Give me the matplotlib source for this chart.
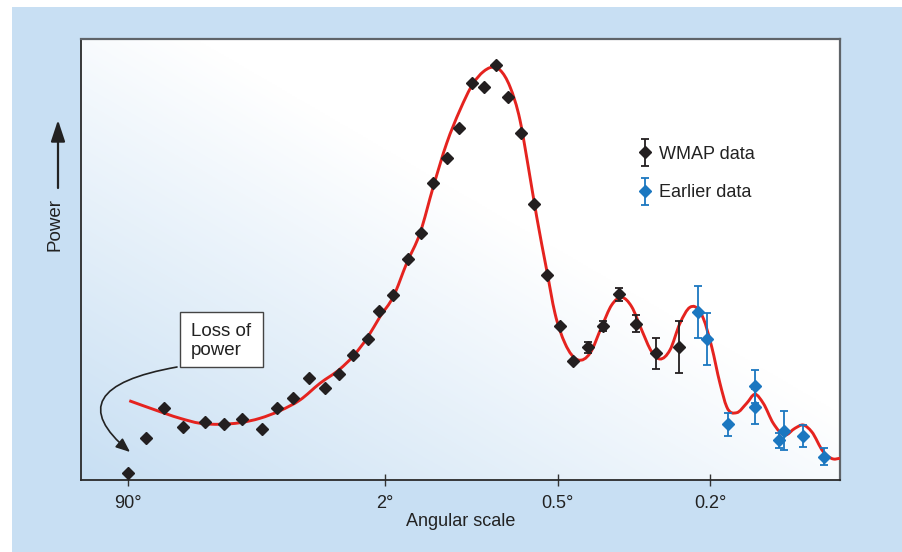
import matplotlib.pyplot as plt
import numpy as np
from matplotlib.container import ErrorbarContainer
from matplotlib.legend_handler import HandlerErrorbar
from matplotlib.patches import PathPatch, Rectangle
from matplotlib.path import Path

# multipole l and band power (arbitrary units)
wmap_l = [2, 3.05, 4.5, 6.46, 9.52, 12.94, 16.95, 22.35, 27.36, 33.57,
          40.65, 48.62, 56.86, 65.49, 76.5, 85.49, 97.7, 111.55, 125.96, 139.81,
          156.56, 173.23, 191.81, 211.18, 230.94, 253.75, 277.78, 306.08, 333.72, 365.39,
          399.27, 438.51, 483.38, 534.83, 590.63, 666.81, 757.73]
wmap_power = [94, 592, 1012, 746, 816, 780, 854, 710, 1012, 1152,
              1432, 1292, 1480, 1750, 1974, 2370, 2590, 3098, 3462, 4162,
              4504, 4924, 5554, 5506, 5810, 5366, 4862, 3864, 2874, 2156,
              1673, 1858, 2160, 2600, 2188, 1774, 1862]
wmap_err = [0] * 31 + [77, 70, 91, 122, 217, 364]

earlier_l = [843.3, 884.1, 992.0, 1138.5, 1138.5, 1281.7, 1317.5, 1442.1, 1592.5]
earlier_power = [2348, 1974, 784, 1312, 1026, 556, 690, 620, 326]
earlier_err = [364, 364, 161, 234, 248, 105, 270, 154, 122]

model_l = [2.065, 3.581, 6.111, 8.746, 12.15, 16.466, 21.836, 28.429, 36.408, 45.966,
           57.29, 65.49, 76.5, 86.07, 97.7, 110.54, 124.54, 139.81, 156.56, 174.65,
           194.25, 210.05, 224.03, 238.54, 256.95, 276.37, 293.34, 311.29, 333.72, 353.21,
           377.85, 412.58, 445.07, 479.43, 510.35, 542.71, 576.62, 612.1, 649.2, 681.2,
           721.37, 763.29, 806.95, 829.53, 868.02, 908.29, 949.34, 983.66, 1036.4, 1091.3,
           1138.5, 1187.2, 1247.9, 1321.9, 1387.8, 1444.2, 1503.1, 1587.3, 1662.8, 1714.7]
model_power = [1110, 990, 864, 794, 780, 802, 864, 970, 1120, 1354,
               1554, 1726, 2006, 2286, 2566, 3034, 3454, 4106, 4714, 5180,
               5554, 5716, 5778, 5740, 5506, 5040, 4386, 3686, 2940, 2334,
               1914, 1680, 1774, 2146, 2450, 2558, 2426, 2100, 1796, 1694,
               1820, 2194, 2418, 2426, 2264, 1866, 1354, 1026, 942, 1074,
               1200, 1074, 794, 630, 724, 770, 676, 396, 294, 304]

tick_l = [2, 90, 360, 900]
tick_labels = ['90°', '2°', '0.5°', '0.2°']

BLUE_BG = '#c8dff3'
RED = '#e5231f'
BLACK = '#231f20'
BLUE = '#1b77c0'

plt.rcParams['font.family'] = ['Liberation Sans', 'DejaVu Sans']


def fwd(v):
    return np.abs(v) ** 0.25


def inv(v):
    return np.abs(v) ** 4


def smooth_path(xs, ys):
    # cubic Hermite segments in the axis' own (l**0.25) coordinate
    q = fwd(np.asarray(xs, float))
    p = np.asarray(ys, float)
    m = np.gradient(p, q)
    verts = [(xs[0], p[0])]
    codes = [Path.MOVETO]
    for i in range(len(q) - 1):
        dq = q[i + 1] - q[i]
        verts += [(inv(q[i] + dq / 3), p[i] + m[i] * dq / 3),
                  (inv(q[i + 1] - dq / 3), p[i + 1] - m[i + 1] * dq / 3),
                  (xs[i + 1], p[i + 1])]
        codes += [Path.CURVE4] * 3
    return Path(verts, codes)


fig = plt.figure(figsize=(9.02, 5.52), dpi=100)
fig.add_artist(Rectangle((12 / 902, 0), 1, 1 - 7 / 552, transform=fig.transFigure,
                         facecolor=BLUE_BG, edgecolor='none', zorder=-10))

pos = [81 / 902, 72 / 552, 759 / 902, 441 / 552]

# gradient backdrop (blue bottom-left -> white top-right)
bg = fig.add_axes(pos, zorder=0)
gx, gy = np.meshgrid(np.linspace(0, 1, 300), np.linspace(0, 1, 300))
t = np.clip(1 - (gx + gy) / 1.15, 0, 1)
c0 = np.array([1.0, 1.0, 1.0])
c1 = np.array([200, 223, 243]) / 255
img = c0 + (c1 - c0) * t[..., None]
bg.imshow(img, origin='lower', extent=(0, 1, 0, 1), aspect='auto')
bg.axis('off')

ax = fig.add_axes(pos, zorder=1)
ax.set_facecolor('none')
ax.set_xscale('function', functions=(fwd, inv))

ax.add_patch(PathPatch(smooth_path(model_l, model_power), fill=False, edgecolor=RED,
                       lw=2.1, zorder=3))

wl = np.array(wmap_l)
wp = np.array(wmap_power)
we = np.array(wmap_err)
has_err = we > 0
ax.plot(wl[~has_err], wp[~has_err], 'D', color=BLACK, ms=6.5, zorder=4)
wmap_eb = ax.errorbar(wl[has_err], wp[has_err], yerr=we[has_err], fmt='D', color=BLACK,
                      ms=6.5, elinewidth=1.3, capsize=3, capthick=1.3, zorder=4)
early_eb = ax.errorbar(earlier_l, earlier_power, yerr=earlier_err, fmt='D', color=BLUE,
                       ms=6.5, elinewidth=1.3, capsize=3, capthick=1.3, zorder=4)

ax.set_xlim(0.505, 1715)
ax.set_ylim(0, 6174)
ax.set_yticks([])
ax.set_xticks(tick_l)
ax.set_xticklabels(tick_labels, fontsize=13, color='#222222')
ax.xaxis.set_minor_locator(plt.NullLocator())
ax.tick_params(axis='x', direction='inout', length=9, width=1, color='#333333', pad=6)
ax.set_xlabel('Angular scale', fontsize=13, labelpad=1, color='#222222')

for side in ['left', 'bottom']:
    ax.spines[side].set_color('#2a2a2a')
    ax.spines[side].set_linewidth(1.3)
for side in ['top', 'right']:
    ax.spines[side].set_color('#5f6469')
    ax.spines[side].set_linewidth(1.6)

leg = ax.legend([wmap_eb, early_eb], ['WMAP data', 'Earlier data'],
                loc='upper left', bbox_to_anchor=(0.733, 0.758), frameon=False,
                fontsize=13, handlelength=0.8, handletextpad=0.4, labelspacing=1.2,
                borderpad=0, borderaxespad=0,
                handler_map={ErrorbarContainer: HandlerErrorbar(xerr_size=0.75)})
for txt in leg.get_texts():
    txt.set_color('#222222')

ax.add_patch(Rectangle((0.1304, 0.2562), 0.1094, 0.1247, transform=ax.transAxes,
                       facecolor='white', edgecolor='#444444', lw=1, zorder=5))
ax.text(0.1449, 0.3152, 'Loss of\npower', transform=ax.transAxes, ha='left', va='center',
        fontsize=13.5, color='#222222', linespacing=1.2, zorder=6)
ax.annotate('', xy=(0.0646, 0.0635), xytext=(0.1265, 0.2562), xycoords='axes fraction',
            arrowprops=dict(arrowstyle='-|>,head_length=0.85,head_width=0.35',
                            connectionstyle='angle3,angleA=190,angleB=140',
                            color='#222222', lw=1.2, shrinkA=0, shrinkB=0), zorder=5)

# y-axis label with an upward arrow
fig.text(0.061, 0.5924, 'Power', rotation=90, ha='center', va='center', fontsize=13.5,
         color='#222222')
ax.annotate('', xy=(58 / 902, (552 - 120) / 552), xytext=(58 / 902, (552 - 188) / 552),
            xycoords='figure fraction',
            arrowprops=dict(arrowstyle='-|>,head_length=1.3,head_width=0.43',
                            color='#222222', lw=1.6, shrinkA=0, shrinkB=0),
            annotation_clip=False)

fig.savefig('out.png', dpi=100)
